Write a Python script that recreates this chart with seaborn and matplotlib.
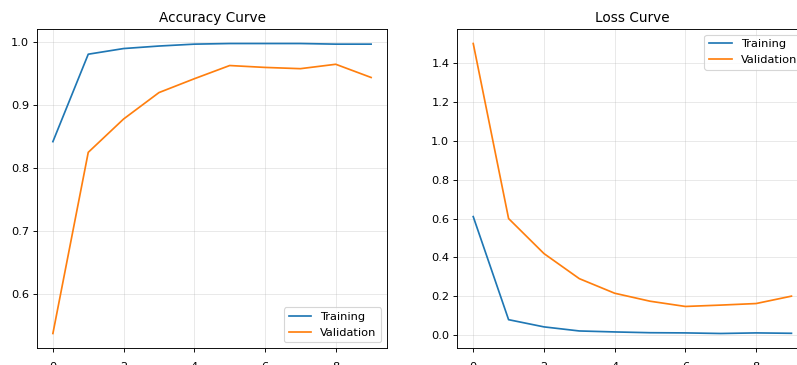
import matplotlib
matplotlib.use("Agg")
import matplotlib.pyplot as plt
import seaborn as sns
import pandas as pd

# ------------------------------------------------------------------
# Data (10 epochs)
# ------------------------------------------------------------------
epochs = list(range(10))

train_acc = [0.842, 0.981, 0.990, 0.994, 0.997, 0.998, 0.998, 0.998, 0.997, 0.997]
val_acc   = [0.537, 0.825, 0.878, 0.920, 0.942, 0.963, 0.960, 0.958, 0.965, 0.944]

train_loss = [0.610, 0.080, 0.043, 0.022, 0.017, 0.013, 0.012, 0.009, 0.012, 0.010]
val_loss   = [1.500, 0.600, 0.420, 0.291, 0.216, 0.175, 0.148, 0.155, 0.163, 0.201]

acc_df = pd.DataFrame({"epoch": epochs, "train": train_acc, "val": val_acc})
loss_df = pd.DataFrame({"epoch": epochs, "train": train_loss, "val": val_loss})

# ------------------------------------------------------------------
# Figure (797x365 px, axes placed like the cropped original)
# ------------------------------------------------------------------
dpi = 82
fig = plt.figure(figsize=(797 / dpi, 365 / dpi), dpi=dpi)
ax1 = fig.add_axes([0.0464, 0.0466, 0.4392, 0.8739])
ax2 = fig.add_axes([0.5738, 0.0466, 0.4392, 0.8739])

blue, orange = sns.color_palette("tab10")[:2]

for ax, df, title, loc in [(ax1, acc_df, "Accuracy Curve", "lower right"),
                           (ax2, loss_df, "Loss Curve", "upper right")]:
    sns.lineplot(data=df, x="epoch", y="train", ax=ax, color=blue, label="Training", linewidth=1.5)
    sns.lineplot(data=df, x="epoch", y="val", ax=ax, color=orange, label="Validation", linewidth=1.5)
    ax.set_title(title)
    ax.set_xlabel("")
    ax.set_ylabel("")
    ax.set_xticks([0, 2, 4, 6, 8])
    ax.tick_params(axis="x", pad=9)
    ax.grid(True, alpha=0.3)
    ax.legend(loc=loc)

ax1.set_yticks([0.6, 0.7, 0.8, 0.9, 1.0])
ax2.set_yticks([0.0, 0.2, 0.4, 0.6, 0.8, 1.0, 1.2, 1.4])

fig.savefig("out.png", dpi=dpi)
